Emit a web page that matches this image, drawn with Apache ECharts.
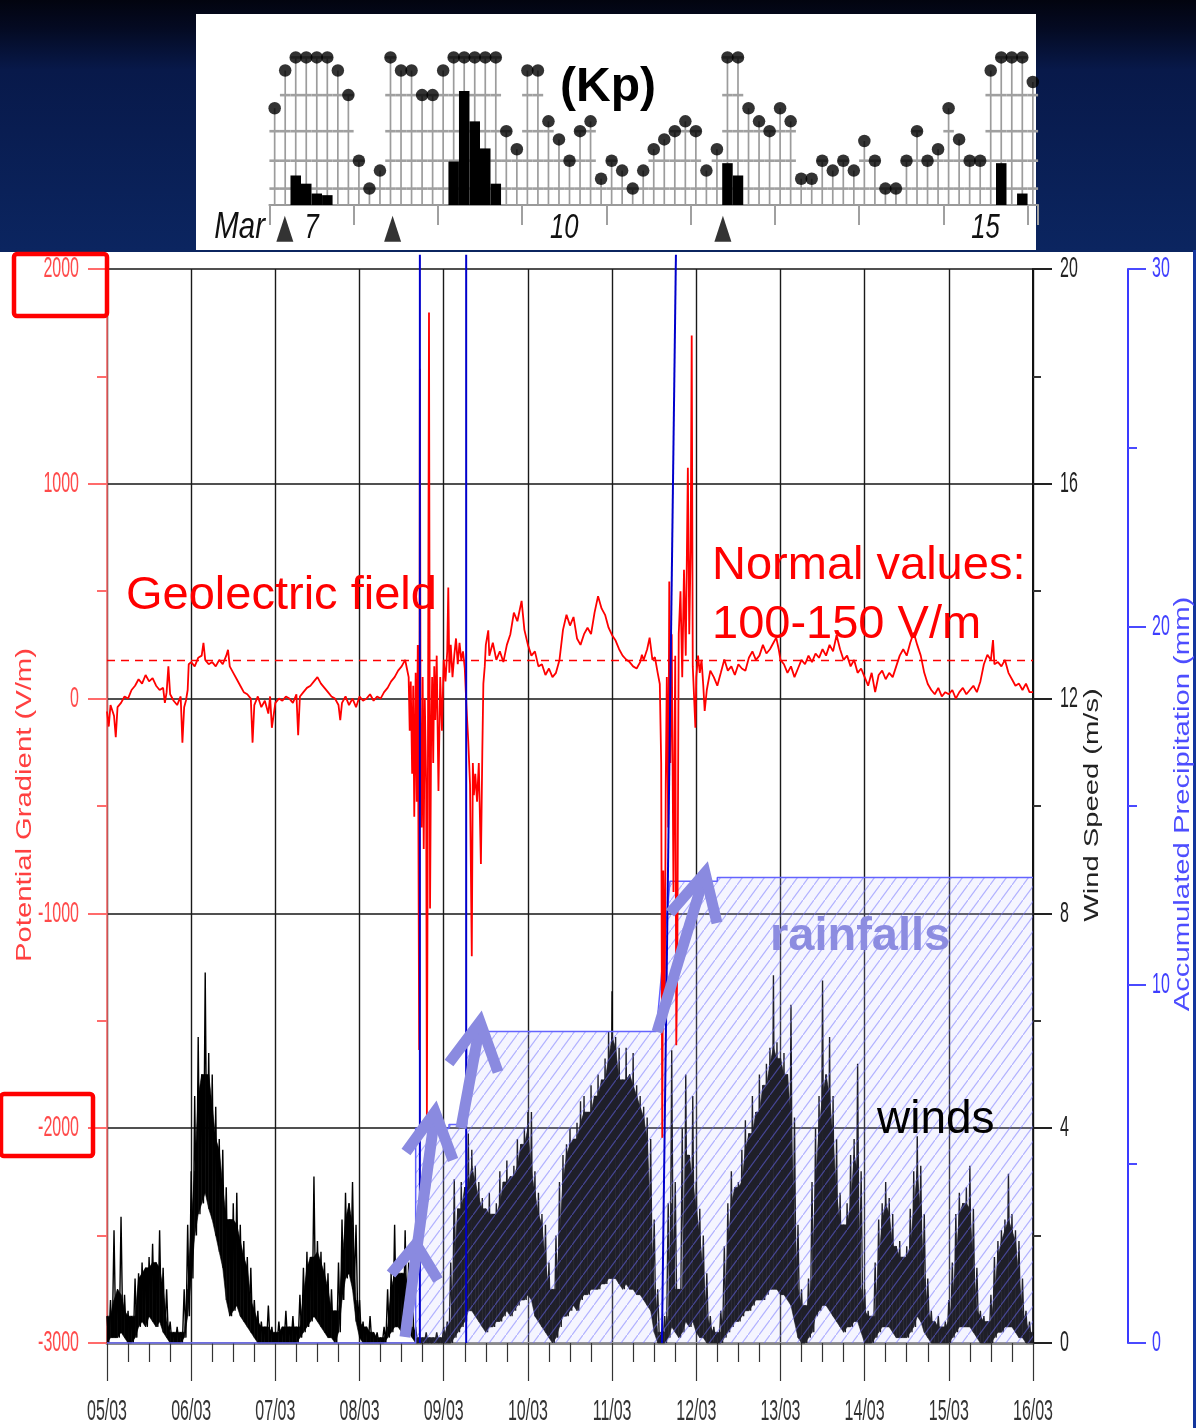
<!DOCTYPE html>
<html><head><meta charset="utf-8">
<script src="https://cdn.jsdelivr.net/npm/echarts@6/dist/echarts.min.js"></script>
<style>
html,body{margin:0;padding:0;}
body{width:1196px;height:1428px;overflow:hidden;position:relative;
 background:linear-gradient(to bottom,#02040f 0px,#040a22 28px,#08194a 70px,#0b2560 250px,#0b2560 100%);}
#mainbg{position:absolute;left:0;top:252px;width:1193px;height:1176px;background:#fff;}
#rightedge{position:absolute;left:1193px;top:250px;width:3px;height:1178px;background:#13359c;}
#kpbg{position:absolute;left:196px;top:14px;width:840px;height:236px;background:#fff;}
#chart{position:absolute;left:0;top:0;width:1196px;height:1428px;}
</style></head><body>
<div id="mainbg"></div><div id="rightedge"></div><div id="kpbg"></div><div id="chart"></div>
<script>
// ---------- DATA ----------
// x axis: hours since 05/03 00:00
const xLabels = ['05/03','06/03','07/03','08/03','09/03','10/03','11/03','12/03','13/03','14/03','15/03','16/03'];
const fieldTicks = [-3000,-2000,-1000,0,1000,2000];
const windTicks = [0,4,8,12,16,20];
const precipTicks = [0,10,20,30];
const normalLevel = 177; // V/m dashed reference

// Wind speed (m/s), hourly upper and lower envelope, h = 0..264
const windHi = [
 0.5,0.8,2.1,1.0,2.35,0.9,0.6,0.5,1.2,1.3,1.5,1.4,1.6,1.85,1.5,2.1,1.4,1.0,0.4,0.2,0.3,0.2,1.0,2.2,3.2,
 4.6,5.7,5.0,6.9,5.4,5.0,4.4,3.8,3.6,2.9,2.3,2.6,2.8,2.2,1.9,1.6,1.4,0.8,0.6,0.4,0.3,0.7,0.3,0.2,
 0.4,0.3,0.6,0.3,0.5,0.3,0.9,1.4,1.7,1.6,3.1,1.9,1.7,1.5,1.3,1.0,0.6,1.5,2.3,2.8,2.6,3.0,2.2,0.8,
 0.4,0.3,0.5,0.2,0.2,0.1,0.3,1.0,1.3,2.2,1.4,1.3,2.1,1.5,1.0,0.3,0.1,0.1,0.2,0.1,0.1,0.2,0.1,0.3,
 0.4,1.5,3.05,2.5,3.0,2.9,3.9,3.6,3.3,3.0,2.7,2.5,2.8,2.4,2.6,3.2,3.0,3.4,3.1,3.3,3.8,3.7,4.0,4.3,
 4.3,3.2,2.8,2.4,2.2,1.5,1.0,2.0,3.0,3.5,3.7,4.0,3.8,4.1,4.5,4.6,4.3,4.8,4.6,5.0,4.9,5.3,5.8,6.55,
 5.7,5.5,4.9,5.5,5.0,5.4,4.8,4.6,4.4,4.2,3.8,2.3,1.0,0.2,0.5,2.6,5.45,3.0,1.0,4.0,5.0,3.5,4.6,3.0,
 2.5,2.0,1.3,0.5,0.3,0.2,0.6,1.8,2.6,3.2,2.9,3.0,3.6,4.15,3.9,4.6,4.3,5.0,4.8,5.2,5.5,6.85,5.6,5.3,
 5.4,5.0,6.3,4.2,2.2,1.0,0.7,1.2,3.0,4.0,4.6,6.75,5.0,5.7,4.6,3.8,2.8,2.2,2.6,3.5,3.8,5.2,3.2,1.0,
 0.6,0.5,1.5,2.3,2.6,3.0,2.7,2.4,1.8,1.9,1.6,1.8,2.5,3.2,3.85,3.3,2.4,1.2,0.6,0.4,0.5,0.3,0.4,0.8,
 1.5,2.4,2.8,2.6,2.9,3.3,2.5,1.4,0.6,0.5,0.4,0.9,1.6,1.9,2.1,2.3,3.15,2.4,2.1,1.9,1.2,0.6,0.4,0.2
];
const windLo = [
 0,0.1,0.1,0.1,0.2,0.1,0,0,0.1,0.3,0.4,0.3,0.5,0.4,0.3,0.4,0.2,0.1,0,0,0,0,0.1,0.5,1.2,
 2.0,2.4,2.6,2.8,2.5,2.3,2.0,1.7,1.4,0.8,0.5,0.6,0.7,0.5,0.4,0.3,0.2,0.1,0,0,0,0,0,0,
 0,0,0,0,0,0,0.1,0.2,0.3,0.4,0.5,0.4,0.3,0.2,0.1,0.1,0,0.2,0.8,1.2,1.3,1.0,0.4,0.1,
 0,0,0,0,0,0,0,0.1,0.2,0.3,0.3,0.2,0.3,0.2,0.1,0,0,0,0,0,0,0,0,0,
 0,0,0.1,0.2,0.3,0.4,0.6,0.6,0.5,0.4,0.3,0.2,0.3,0.3,0.4,0.4,0.5,0.6,0.5,0.6,0.7,0.8,0.8,0.9,
 0.8,0.5,0.4,0.3,0.2,0.1,0,0.1,0.3,0.5,0.5,0.6,0.7,0.6,0.8,0.9,0.9,1.0,1.0,1.0,1.1,1.1,1.2,1.2,
 1.2,1.1,1.0,1.1,1.0,1.0,0.9,0.9,0.8,0.7,0.6,0.2,0,0,0,0.1,0.3,0.2,0.1,0.2,0.4,0.3,0.4,0.2,
 0.1,0.1,0,0,0,0,0,0.1,0.2,0.3,0.4,0.4,0.5,0.6,0.6,0.7,0.8,0.8,0.8,0.9,1.0,1.0,1.0,0.9,
 0.9,0.8,0.7,0.4,0.1,0,0,0.1,0.2,0.5,0.6,0.7,0.7,0.6,0.5,0.4,0.3,0.2,0.3,0.3,0.4,0.4,0.2,0,
 0,0,0.1,0.2,0.3,0.3,0.3,0.2,0.1,0.1,0.1,0.1,0.2,0.3,0.5,0.4,0.2,0.1,0,0,0,0,0,0,
 0.1,0.2,0.3,0.3,0.3,0.3,0.2,0.1,0,0,0,0,0.1,0.2,0.2,0.3,0.3,0.3,0.2,0.1,0.1,0,0,0
];

// Potential gradient (V/m): [hour, value]
const fieldData = [
 [0,-60],[0.5,-130],[1,-30],[2,-80],[2.5,-180],[3,-40],[4,-20],[5,10],[6,0],[7,40],[8,60],[9,90],[10,70],[11,110],[12,80],[13,95],[14,60],[15,40],[16,50],[16.5,-20],[17,30],[17.5,150],[18,20],[19,-10],[20,-30],[21,10],[21.5,-205],[22,-40],[22.5,-10],[23,40],[23.3,160],
 [24,170],[25,150],[26,190],[27,200],[27.5,260],[28,180],[29,160],[30,170],[31,150],[32,180],[33,160],[34,200],[34.5,227],[35,150],[36,120],[37,90],[38,60],[39,30],[40,20],[41,0],[41.5,-205],[42,-30],[43,10],[44,-40],[45,-10],[46,-70],[46.5,10],[47,-136],
 [48,-20],[49,0],[50,-10],[51,10],[52,0],[53,-20],[54,20],[54.5,-170],[55,10],[56,30],[57,50],[58,60],[59,80],[60,100],[61,70],[62,50],[63,30],[64,10],[65,0],[66,-30],[66.5,-100],[67,-20],[68,10],[69,-30],[70,0],[71,-40],
 [72,10],[73,-10],[74,0],[75,20],[76,-10],[77,10],[78,0],[79,30],[80,50],[81,80],[82,100],[83,130],[84,150],[85,180],[85.5,140],[86,100],[86.3,-150],[86.6,80],[87,-350],[87.3,60],[87.6,-550],[88,120],[88.3,-480],[88.6,250],[89,-1636],[89.2,1536],[89.4,-200],[89.7,-600],[90,100],[90.3,-700],[90.6,0],[91,-400],[91.2,-1943],[91.5,-300],[91.8,1797],[92.1,-977],[92.4,-200],[92.7,100],[93,-300],[93.3,150],[93.6,-100],[94,200],[94.5,-430],[95,100],[95.5,-150],
 [96,180],[96.5,80],[97,220],[97.3,517],[97.6,120],[98,250],[98.5,100],[99,200],[99.5,280],[100,160],[100.5,260],[101,180],[101.5,220],[102,140],[102.5,-45],[103,-200],[103.5,-400],[104,-1200],[104.3,-300],[104.6,-450],[105,-350],[105.5,-480],[106,-300],[106.6,-770],[107,-250],[107.3,70],[107.7,150],[108,250],[108.7,318],[109,200],[110,260],[111,180],[112,220],[113,170],[114,250],[115,300],[116,400],[117,360],[118.2,455],[119,320],
 [120,250],[121,200],[122,220],[123,150],[124,160],[125,110],[126,140],[127,100],[128,120],[129,180],[130,320],[131,390],[132,340],[133,380],[134,280],[135,250],[136,300],[137,330],[138,300],[139,400],[140,477],[141,420],[142,390],[143,330],
 [144,295],[145,270],[146,230],[147,200],[148,182],[149,170],[150,150],[151,140],[152,170],[152.5,204],[153,180],[154,230],[154.7,284],[155.5,180],[156.2,193],[157,120],[157.6,68],[158,-300],[158.3,-2045],[158.6,-800],[159,-1500],[159.3,-400],[159.6,100],[160,-600],[160.3,545],[160.6,-300],[161,300],[161.5,-900],[162,200],[162.3,-1614],[162.6,-1200],[163,300],[163.5,500],[164,100],[164.5,600],[165,200],[165.6,1075],[166,300],[166.4,700],[166.7,1690],[167,150],[167.75,-136],
 [168,100],[168.5,200],[169,120],[169.5,180],[170,60],[170.4,-57],[171,40],[172,130],[173,100],[174,60],[175,120],[176,182],[177,130],[178,150],[179,110],[180,160],[181,140],[182,130],[183,190],[184,220],[185,180],[186,200],[187,250],[188,210],[189,230],[190,260],[190.8,284],[191.5,230],
 [192,180],[193,160],[194,120],[195,150],[196,100],[197,140],[198,180],[199,160],[200,200],[201,170],[202,210],[203,190],[204,230],[205,200],[206,250],[207,220],[208,295],[209,230],[210,180],[211,200],[212,150],[213,180],[214,120],[215,140],
 [216,100],[217,60],[218,120],[219,30],[220,110],[221,130],[222,90],[223,120],[224,100],[225,150],[226,200],[227,230],[228,200],[229,260],[230,307],[231,250],[232,200],[233,120],[234,68],[235,40],[236,20],[237,50],[238,10],[239,30],
 [240,20],[241,40],[242,0],[243,30],[244,50],[245,20],[246,40],[247,60],[248,30],[249,80],[250,160],[251,204],[252,180],[252.6,272],[253,160],[254,170],[255,150],[256,180],[257,120],[258,90],[259,60],[260,70],[261,40],[262,70],[263,30],[264,30]
];

// Accumulated precipitation (mm): [hour, mm]
const precipData = [[0,0],[88,0],[88,6.0],[97.5,6.0],[97.5,6.1],[102.5,6.1],[102.5,8.7],[156.6,8.7],[160.5,12.9],[174,12.9],[174,13.0],[264,13.0]];
// Rain-gauge pulses (bottom hour, top hour)
const rainPulses = [[89.2,89.2],[102.4,102.4],[158.2,162.2]];

// Kp inset: hours since Mar 7 00:00, one value per 3-hour slot
const kpValues = [5.9,8.2,9,9,9,9,8.2,6.7,2.7,1.0, 2.1,9,8.2,8.2,6.7,6.7,8.2,9,9,9, 9,9,4.5,3.4,8.2,8.2,5.1,4.0,2.7,4.5,
 5.1,1.6,2.7,2.1,1.0,2.1,3.4,4.0,4.5,5.1, 4.5,2.1,3.4,9,9,5.9,5.1,4.5,5.9,5.1, 1.6,1.6,2.7,2.1,2.7,2.1,3.9,2.7,1.0,1.0,
 2.7,4.5,2.7,3.4,5.9,4.0,2.7,2.7,8.2,9, 9,9,7.5];
const kpLevels = [1.0,2.7,4.5,6.7,9.0];
const kpBars = [[2,1.8],[3,1.3],[4,0.7],[5,0.6],[17,2.65],[18,6.95],[19,5.1],[20,3.45],[21,1.3],[43,2.55],[44,1.8],[69,2.55],[71,0.7]];
const kpMarkers = [4.4,35.1,129.2];
const kpDayHours = [12,84,204];
const kpDayNames = ['7','10','15'];

// ---------- CHART ----------
const SANS = '"Liberation Sans",Arial,sans-serif';

const windZig = [];
windHi.forEach((v,i)=>{ windZig.push([i,v]); if(i<windHi.length-1) windZig.push([i+0.5, windLo[i]]); });
// body of the wind trace: top follows the lower of neighbouring hourly peaks so that peaks stay thin spikes
function bodyTop(i){ const a=windHi[Math.max(0,i-1)], b=windHi[i], c=windHi[Math.min(windHi.length-1,i+1)]; return Math.max(windLo[i], Math.min(a,b,c)); }

const pc = document.createElement('canvas'); pc.width=11; pc.height=15;
const pctx = pc.getContext('2d');
pctx.fillStyle='rgba(190,190,255,0.16)'; pctx.fillRect(0,0,11,15);
pctx.strokeStyle='rgba(110,110,255,0.5)'; pctx.lineWidth=1.2;
pctx.beginPath(); pctx.moveTo(-2,15+2.73); pctx.lineTo(13,-2.73); pctx.stroke();

const chart = echarts.init(document.getElementById('chart'), null, {renderer:'canvas'});

const pulseSeries = rainPulses.map(p=>({
  type:'line', xAxisIndex:0, yAxisIndex:2, data:[[p[0],0],[p[1],30.4]], clip:false,
  symbol:'none', lineStyle:{color:'#0000cc', width:2}, z:6, silent:true
}));

function txt(text,x,y,font,fill,align,sy,sx){
  return {type:'text', x:x, y:y, z:100, scaleY:sy||1, scaleX:sx||1, style:{text:text, font:font, fill:fill,
    align:align||'left', verticalAlign:'middle', textAlign:align||'left', textVerticalAlign:'middle'}};
}
function vtxt(text,x,y,font,fill,sx){
  return {type:'text', x:x, y:y, rotation:Math.PI/2, scaleX:sx, z:100,
    style:{text:text, font:font, fill:fill, align:'center', verticalAlign:'middle', textAlign:'center', textVerticalAlign:'middle'}};
}
const arrowColor = '#8a8ae0';
const arrows = [
  {shaft:[[405,1337],[435,1114]], heads:[[[391,1274],[416,1244],[438,1280]],[[406,1152],[435,1112],[453,1160]]]},
  {shaft:[[461,1128],[480,1025]], heads:[[[449,1063],[480,1022],[498,1072]]]},
  {shaft:[[657,1032],[704,877]], heads:[[[670,913],[705,873],[717,923]]]}
];
const arrowEls = [];
arrows.forEach(a=>{
  arrowEls.push({type:'polyline', z:90, shape:{points:a.shaft}, style:{stroke:arrowColor, lineWidth:11, fill:null, lineCap:'butt'}});
  a.heads.forEach(h=>arrowEls.push({type:'polyline', z:90, shape:{points:h}, style:{stroke:arrowColor, lineWidth:11, fill:null, lineJoin:'miter', lineCap:'butt'}}));
});

const option = {
  backgroundColor:'transparent',
  animation:false,
  grid:[
    {left:107, right:163, top:269, bottom:85},
    {left:269.4, right:157.9, top:41, bottom:1223}
  ],
  xAxis:[
    {gridIndex:0, type:'value', min:0, max:264, interval:24,
     axisLine:{onZero:false, lineStyle:{color:'#8a8a8a', width:3}},
     axisTick:{length:38, lineStyle:{color:'#333', width:1.2}},
     minorTick:{show:true, splitNumber:4, length:19, lineStyle:{color:'#333', width:1.2}},
     axisLabel:{show:false},
     splitLine:{show:true, lineStyle:{color:'#1a1a1a', width:1.4}}},
    {gridIndex:1, type:'value', min:0, max:219, interval:24,
     axisLine:{onZero:false, lineStyle:{color:'#9a9a9a', width:2}},
     axisTick:{length:20, lineStyle:{color:'#a0a0a0', width:2}},
     axisLabel:{show:false},
     splitLine:{show:false}}
  ],
  yAxis:[
    {gridIndex:0, type:'value', min:-3000, max:2000, interval:1000, position:'left',
     axisLine:{show:true, onZero:false, lineStyle:{color:'#ff6b6b', width:1.5}},
     axisTick:{show:true, length:19, lineStyle:{color:'#ff6b6b', width:2}},
     minorTick:{show:true, splitNumber:2, length:10, lineStyle:{color:'#ff6b6b', width:2}},
     axisLabel:{show:false},
     splitLine:{show:true, lineStyle:{color:'#505050', width:2}}},
    {gridIndex:0, type:'value', min:0, max:20, interval:4, position:'right', offset:0,
     axisLine:{show:true, onZero:false, lineStyle:{color:'#111', width:2}},
     axisTick:{show:true, length:19, lineStyle:{color:'#222', width:2}},
     minorTick:{show:true, splitNumber:2, length:8, lineStyle:{color:'#333', width:2}},
     axisLabel:{show:false},
     splitLine:{show:false}},
    {gridIndex:0, type:'value', min:0, max:30, interval:10, position:'right', offset:95,
     axisLine:{show:true, onZero:false, lineStyle:{color:'#3a3aff', width:2}},
     axisTick:{show:true, length:18, lineStyle:{color:'#4a4aff', width:2}},
     minorTick:{show:true, splitNumber:2, length:9, lineStyle:{color:'#4a4aff', width:2}},
     axisLabel:{show:false},
     splitLine:{show:false}},
    {gridIndex:1, type:'value', min:0, max:10, show:false}
  ],
  series:[
    {name:'Wind body', type:'custom', xAxisIndex:0, yAxisIndex:1, data:windHi.map((v,i)=>[i,v,windLo[i]]), z:2, silent:true,
     renderItem:function(params, api){
       const i=params.dataIndex; if(i>=windHi.length-1) return null;
       const h=api.value(0);
       const pts=[api.coord([h,bodyTop(i)]), api.coord([h+1,bodyTop(i+1)]), api.coord([h+1,windLo[i+1]]), api.coord([h,windLo[i]])];
       return {type:'polygon', shape:{points:pts}, style:{fill:'#000', stroke:'#000', lineWidth:0.6}};
     }},
    {name:'Wind', type:'line', xAxisIndex:0, yAxisIndex:1, data:windZig, symbol:'none',
     lineStyle:{color:'#000', width:1.4}, z:2, silent:true},
    {name:'Precipitation', type:'line', xAxisIndex:0, yAxisIndex:2, data:precipData, symbol:'none',
     lineStyle:{color:'#6464ff', width:1.5}, areaStyle:{color:{image:pc, repeat:'repeat'}, opacity:1}, z:3, silent:true},
    {name:'Potential Gradient', type:'line', xAxisIndex:0, yAxisIndex:0, data:fieldData, symbol:'none',
     lineStyle:{color:'#ff0000', width:1.8}, z:4, silent:true,
     markLine:{silent:true, symbol:['none','none'], label:{show:false},
       lineStyle:{color:'#ff0000', type:[8,6], width:1.4}, data:[{yAxis:normalLevel}]}}
  ].concat(pulseSeries).concat([
    {type:'custom', xAxisIndex:1, yAxisIndex:3, data:kpValues.map((v,i)=>[i*3+1.5,v]), z:2, silent:true,
     renderItem:function(params, api){
       const h=api.value(0), v=api.value(1);
       const b=api.coord([h,0]), t=api.coord([h,v]);
       const half=api.size([3,0])[0]/2;
       const ch=[{type:'line', shape:{x1:b[0],y1:b[1],x2:t[0],y2:t[1]}, style:{stroke:'#9c9c9c', lineWidth:1.7}}];
       kpLevels.forEach(l=>{ if(l<=v+0.05){ const p=api.coord([h,l]);
         ch.push({type:'line', shape:{x1:p[0]-half,y1:p[1],x2:p[0]+half,y2:p[1]}, style:{stroke:'#a0a0a0', lineWidth:2.6}}); }});
       return {type:'group', children:ch};
     }},
    {type:'bar', xAxisIndex:1, yAxisIndex:3, data:kpBars.map(b=>[b[0]*3+1.5,b[1]]), barWidth:10.5,
     itemStyle:{color:'#000'}, z:3, silent:true},
    {type:'scatter', xAxisIndex:1, yAxisIndex:3, data:kpValues.map((v,i)=>[i*3+1.5,v]), symbol:'circle', symbolSize:12.5,
     itemStyle:{color:'#000'}, z:4, silent:true},
    {type:'scatter', xAxisIndex:1, yAxisIndex:3, data:kpMarkers.map(h=>[h,-1.45]), symbol:'triangle', symbolSize:[17,26],
     itemStyle:{color:'#000'}, clip:false, z:4, silent:true}
  ])
};
chart.setOption(option);

// tick labels placed through the axes' own scales (tall condensed look of the original)
const LBL = '16px '+SANS;
const labelEls = [];
xLabels.forEach((t,i)=>{ const x=chart.convertToPixel({xAxisIndex:0}, i*24); labelEls.push(txt(t,x,1412,LBL,'#333','center',1.85)); });
fieldTicks.forEach(v=>{ const y=chart.convertToPixel({yAxisIndex:0}, v); labelEls.push(txt(String(v),79,y,LBL,'#ff4a4a','right',1.85)); });
windTicks.forEach(v=>{ const y=chart.convertToPixel({yAxisIndex:1}, v); labelEls.push(txt(String(v),1060,y,LBL,'#222','left',1.85)); });
precipTicks.forEach(v=>{ const y=chart.convertToPixel({yAxisIndex:2}, v); labelEls.push(txt(String(v),1152,y,LBL,'#3d3dff','left',1.85)); });
kpDayHours.forEach((h,i)=>{ const x=chart.convertToPixel({xAxisIndex:1}, h); labelEls.push(txt(kpDayNames[i],x,228,'italic 27px '+SANS,'#111','center',1.3,0.95)); });

chart.setOption({graphic:{elements:[
    txt('Geolectric field',126,596,'47px '+SANS,'#ff0000'),
    txt('Normal values:',712,566,'47px '+SANS,'#ff0000'),
    txt('100-150 V/m',712,625,'47px '+SANS,'#ff0000'),
    txt('winds',877,1120,'46px '+SANS,'#000'),
    txt('rainfalls',770,937,'bold 47px '+SANS,'#8c8ce0'),
    txt('(Kp)',560,88,'bold 48px '+SANS,'#000'),
    txt('Mar',265,228,'italic 28px '+SANS,'#111','right',1.3,1.05),
    vtxt('Potential Gradient (V/m)',25,805,'22px '+SANS,'#ff4040',1.33),
    vtxt('Wind Speed (m/s)',1092,805,'21px '+SANS,'#222',1.39),
    vtxt('Accumulated Precipitation (mm)',1183,804,'22px '+SANS,'#4d4dff',1.33),
    {type:'rect', z:100, shape:{x:14,y:254,width:93,height:62,r:3}, style:{stroke:'#ff0000', lineWidth:4.5, fill:null}},
    {type:'rect', z:100, shape:{x:1,y:1094,width:92,height:62,r:3}, style:{stroke:'#ff0000', lineWidth:4.5, fill:null}}
  ].concat(arrowEls).concat(labelEls)}});
</script></body></html>
